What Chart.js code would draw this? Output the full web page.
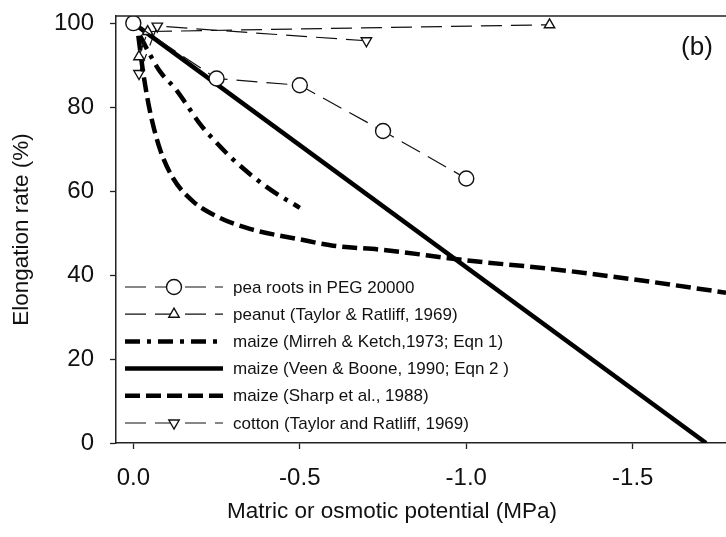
<!DOCTYPE html>
<html lang="en">
<head>
  <meta charset="UTF-8" />
  <title>Elongation rate vs matric or osmotic potential</title>
  <script src="https://cdn.jsdelivr.net/npm/chart.js"></script>
  <style>
    html, body { margin: 0; padding: 0; background: #fff; }
    #wrap { width: 726px; height: 537px; }
  </style>
</head>
<body>
  <div id="wrap"><canvas id="chart" width="726" height="537"></canvas></div>

  <script>
    // values (x = potential in MPa, y = elongation rate in %)
    const peaX = [0, -0.25, -0.5, -0.75, -1.0];
    const peaY = [100, 86.8, 85.2, 74.3, 63];

    const peanutX = [-0.017, -0.043, -1.25];
    const peanutY = [92, 98, 99.6];

    const cottonX = [-0.017, -0.072, -0.7];
    const cottonY = [88, 99.3, 95.8];

    const mirrehX = [-0.02, -0.05, -0.08, -0.13, -0.16, -0.2, -0.25, -0.3, -0.4, -0.5];
    const mirrehY = [97, 92.5, 88.5, 84, 80.6, 76, 71.5, 67.5, 61, 56];

    const veenX = [0, -1.72];
    const veenY = [100, 0];

    const sharpX = [-0.015, -0.03, -0.05, -0.08, -0.12, -0.18, -0.25, -0.35, -0.5, -0.6, -0.75, -1.0, -1.25, -1.5, -1.78];
    const sharpY = [97, 88, 79, 70, 63, 57.5, 54, 51, 48.5, 47, 46, 43.5, 41.5, 39, 35.8];

    const seriesNames = [
      'pea roots in PEG 20000',
      'peanut (Taylor & Ratliff, 1969)',
      'maize (Mirreh & Ketch,1973; Eqn 1)',
      'maize (Veen & Boone, 1990; Eqn 2 )',
      'maize (Sharp et al., 1988)',
      'cotton (Taylor and Ratliff, 1969)'
    ];

    const xTicks = [0, -0.5, -1.0, -1.5];
    const yTicks = [0, 20, 40, 60, 80, 100];

    const pts = (xs, ys) => xs.map((x, i) => ({ x: x, y: ys[i] }));
    const thin = { borderColor: '#111', borderWidth: 1.2, borderDash: [21, 9], showLine: true,
                   pointBackgroundColor: '#fff', pointBorderColor: '#111', pointBorderWidth: 1.4 };

    const datasets = [
      Object.assign({}, thin, { label: seriesNames[0], data: pts(peaX, peaY),
        pointStyle: 'circle', pointRadius: 7.5 }),
      Object.assign({}, thin, { label: seriesNames[1], data: pts(peanutX, peanutY),
        pointStyle: 'triangle', pointRadius: 6 }),
      { label: seriesNames[2], data: pts(mirrehX, mirrehY), showLine: true, borderColor: '#000',
        borderWidth: 4.5, borderDash: [15, 7, 4, 7], pointRadius: 0, cubicInterpolationMode: 'monotone' },
      { label: seriesNames[3], data: pts(veenX, veenY), showLine: true, borderColor: '#000',
        borderWidth: 4.5, pointRadius: 0 },
      { label: seriesNames[4], data: pts(sharpX, sharpY), showLine: true, borderColor: '#000',
        borderWidth: 4.5, borderDash: [15, 6], pointRadius: 0, cubicInterpolationMode: 'monotone' },
      Object.assign({}, thin, { label: seriesNames[5], data: pts(cottonX, cottonY),
        pointStyle: 'triangle', pointRotation: 180, pointRadius: 6 })
    ];

    const font = 'Liberation Sans, Arial, sans-serif';

    // top frame line, "(b)", the x title and the legend inside the plot
    const extras = {
      id: 'extras',
      afterDraw(chart) {
        const ctx = chart.ctx;
        const a = chart.chartArea;
        ctx.save();
        ctx.strokeStyle = '#222';
        ctx.lineWidth = 1.5;
        ctx.beginPath();
        ctx.moveTo(a.left, a.top);
        ctx.lineTo(a.right, a.top);
        ctx.stroke();

        ctx.fillStyle = '#111';
        ctx.font = '26px ' + font;
        ctx.textAlign = 'center';
        ctx.textBaseline = 'middle';
        ctx.fillText('(b)', 697, 48);

        ctx.font = '22.5px ' + font;
        ctx.fillText('Matric or osmotic potential (MPa)', 392, 512);

        // legend
        const x0 = 125, x1 = 223, mid = 174;
        ctx.font = '17px ' + font;
        ctx.textAlign = 'left';
        chart.data.datasets.forEach((ds, i) => {
          const y = 287 + i * 27.2;
          ctx.strokeStyle = ds.borderColor;
          ctx.lineWidth = ds.borderWidth;
          ctx.setLineDash(ds.borderDash || []);
          ctx.beginPath();
          ctx.moveTo(x0, y);
          ctx.lineTo(x1, y);
          ctx.stroke();
          ctx.setLineDash([]);
          if (ds.pointRadius > 0) {
            ctx.fillStyle = ds.pointBackgroundColor;
            ctx.strokeStyle = ds.pointBorderColor;
            ctx.lineWidth = ds.pointBorderWidth;
            Chart.helpers.drawPoint(ctx, { pointStyle: ds.pointStyle, rotation: ds.pointRotation || 0,
              radius: ds.pointRadius, borderWidth: ds.pointBorderWidth }, mid, y);
          }
          ctx.fillStyle = '#111';
          ctx.fillText(ds.label, 233, y + 1);
        });
        ctx.restore();
      }
    };

    new Chart(document.getElementById('chart'), {
      type: 'scatter',
      data: { datasets: datasets },
      options: {
        responsive: false,
        animation: false,
        layout: { autoPadding: false, padding: { top: 16, right: 0, left: 0, bottom: 0 } },
        plugins: { legend: { display: false }, tooltip: { enabled: false } },
        scales: {
          x: {
            type: 'linear',
            reverse: true,
            min: -1.78,
            max: 0.052,
            afterBuildTicks: s => { s.ticks = xTicks.map(v => ({ value: v })); },
            afterFit: s => { s.height = 94; s.paddingLeft = 0; s.paddingRight = 0; },
            ticks: { color: '#111', font: { size: 24, family: font }, padding: 15,
                     maxRotation: 0, callback: v => v.toFixed(1) },
            grid: { display: true, drawOnChartArea: false, tickLength: 6, color: '#222', tickWidth: 1.3 },
            border: { display: true, color: '#222', width: 1.5 }
          },
          y: {
            min: 0,
            max: 101.7,
            afterBuildTicks: s => { s.ticks = yTicks.map(v => ({ value: v })); },
            afterFit: s => { s.width = 116; s.paddingTop = 0; s.paddingBottom = 0; },
            ticks: { color: '#111', font: { size: 24, family: font }, padding: 16 },
            grid: { display: true, drawOnChartArea: false, tickLength: 6, color: '#222', tickWidth: 1.3 },
            border: { display: true, color: '#222', width: 1.5 },
            title: { display: true, text: 'Elongation rate (%)', color: '#111',
                     font: { size: 22.5, family: font }, padding: { top: 8 } }
          }
        }
      },
      plugins: [extras]
    });
  </script>
</body>
</html>
